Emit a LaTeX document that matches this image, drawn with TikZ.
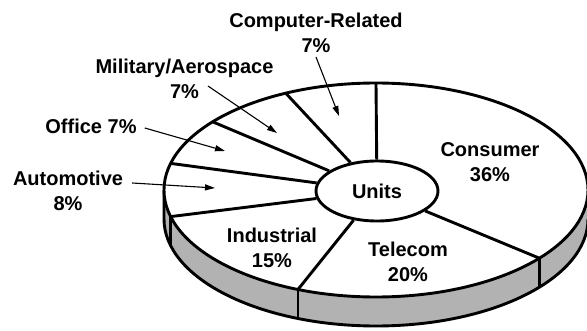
\documentclass[tikz,border=0pt]{standalone}
\usepackage{fontspec}
\setmainfont{Liberation Sans}
\usetikzlibrary{calc,arrows.meta,shapes.geometric}
\tikzset{
  lbl/.style={font=\fontsize{20}{25}\selectfont\bfseries, align=center, inner sep=0pt},
  rim/.style={line width=2.9pt},
  arr/.style={-{Triangle[length=10pt,width=6pt]}, line width=1.1pt},
}
\begin{document}
\begin{tikzpicture}[x=1pt,y=1pt]
  \useasboundingbox (0,0) rectangle (587,330);
  \coordinate (C) at (376,140);

  \fill[black!30] ($(C)+(180:212pt and 107pt)$) arc[start angle=180,end angle=360,x radius=212pt,y radius=107pt]
    -- ++(0,-29) arc[start angle=360,end angle=180,x radius=212pt,y radius=107pt] -- cycle;
  \draw[rim] ($(C)+(180:212pt and 107pt)$) -- ++(0,-29) arc[start angle=180,end angle=360,x radius=212pt,y radius=107pt];
  \draw[rim,fill=white] (C) ellipse[x radius=212pt,y radius=107pt];

  \node[lbl,ellipse,draw,rim,fill=white,minimum width=122pt,minimum height=60pt] (units) at (377,139) {Units};
  \foreach \a [count=\i] in {90,115.2,140.4,165.6,194.4,248.4,320.4} {
    \coordinate (r\i) at ($(C)+(\a:212pt and 107pt)$);
    \draw[rim] (units) -- (r\i);
  }
  \foreach \i in {5,6,7}
    \draw[rim] (r\i) -- ++(0,-29);

  \node[lbl] (comp) at (316,297) {Computer-Related\\7\%};
  \node[lbl] (mil) at (184.5,251.5) {Military/Aerospace\\7\%};
  \node[lbl] (office) at (91,204) {Office 7\%};
  \node[lbl] (auto) at (68,139) {Automotive\\8\%};
  \node[lbl] (ind) at (272,82.5) {Industrial\\15\%};
  \node[lbl] (tel) at (408,68.5) {Telecom\\20\%};
  \node[lbl] (cons) at (490,168) {Consumer\\36\%};

  \coordinate (compend) at (339,214);
  \coordinate (milend) at (277,197);
  \coordinate (officeend) at (225,179);
  \coordinate (autoend) at (215,142);
  \draw[arr] ([yshift=-4pt]comp.south) -- (compend);
  \draw[arr] ([xshift=23.5pt,yshift=12.5pt]mil.south) -- (milend);
  \draw[arr] ([xshift=8pt,yshift=-2pt]office.east) -- (officeend);
  \draw[arr] ([xshift=9pt,yshift=8pt]auto.east) -- (autoend);
\end{tikzpicture}
\end{document}
